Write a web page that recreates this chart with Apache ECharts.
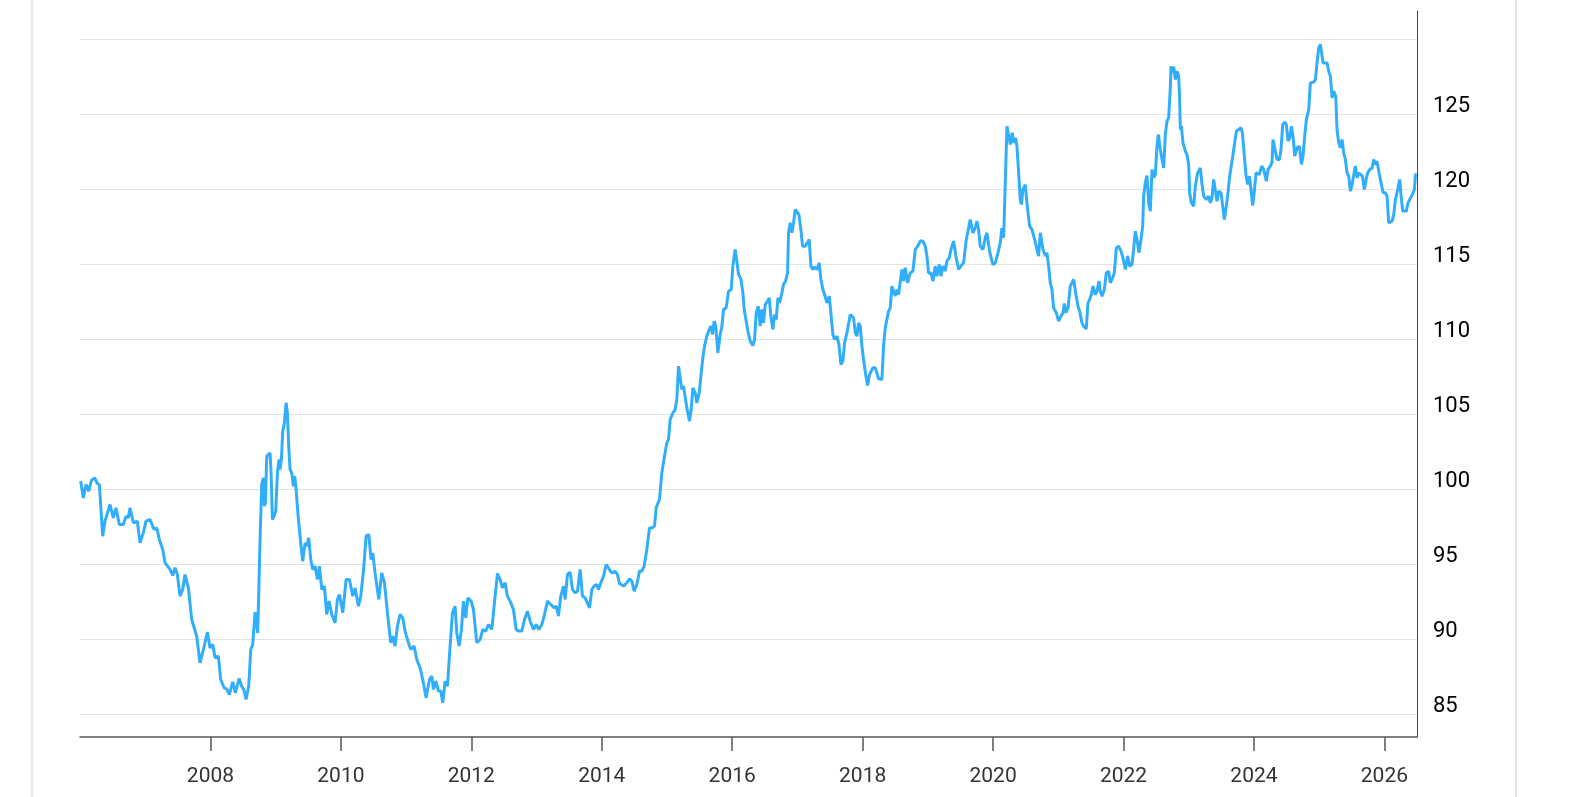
<!DOCTYPE html>
<html>
<head>
<meta charset="utf-8">
<title>Index</title>
<script src="https://cdn.jsdelivr.net/npm/echarts@6/dist/echarts.min.js"></script>
<style>
  html, body { margin: 0; padding: 0; background: #fff; }
  #frame { position: absolute; left: 31px; top: 0; width: 1482px; height: 797px;
           border-left: 2px solid #e6e6e6; border-right: 2px solid #e6e6e6; }
  #chart { position: absolute; left: 0; top: 0; width: 1572px; height: 797px; }
</style>
</head>
<body>
<div id="frame"></div>
<div id="chart"></div>
<script>
// decimal years of each reading
const years = [
  2006.010, 2006.051, 2006.092, 2006.133, 2006.174, 2006.225, 2006.266, 2006.297, 2006.348, 2006.383,
  2006.409, 2006.460, 2006.486, 2006.511, 2006.552, 2006.603, 2006.665, 2006.706, 2006.741, 2006.767,
  2006.818, 2006.879, 2006.920, 2006.971, 2007.012, 2007.074, 2007.135, 2007.176, 2007.217, 2007.268,
  2007.304, 2007.380, 2007.421, 2007.457, 2007.493, 2007.534, 2007.575, 2007.610, 2007.662, 2007.713,
  2007.789, 2007.840, 2007.892, 2007.953, 2007.994, 2008.035, 2008.071, 2008.122, 2008.157, 2008.209,
  2008.249, 2008.290, 2008.342, 2008.382, 2008.439, 2008.480, 2008.515, 2008.546, 2008.587, 2008.618,
  2008.648, 2008.684, 2008.725,
  2008.761, 2008.786, 2008.812, 2008.827, 2008.843, 2008.863, 2008.889, 2008.914, 2008.930, 2008.950,
  2008.975, 2009.001, 2009.027, 2009.052, 2009.067, 2009.088, 2009.108, 2009.134, 2009.160, 2009.180,
  2009.200, 2009.221, 2009.247, 2009.272, 2009.292, 2009.313, 2009.349, 2009.384, 2009.415, 2009.451,
  2009.476, 2009.507, 2009.538,
  2009.568, 2009.604, 2009.640, 2009.671, 2009.707, 2009.747, 2009.783, 2009.819, 2009.860, 2009.911,
  2009.947, 2009.978,
  2010.029, 2010.080, 2010.131, 2010.182, 2010.218, 2010.269, 2010.305, 2010.346, 2010.387, 2010.428,
  2010.463, 2010.489, 2010.524, 2010.581, 2010.627, 2010.668, 2010.714, 2010.765, 2010.796, 2010.831,
  2010.867, 2010.908, 2010.949, 2010.990, 2011.036, 2011.072, 2011.123, 2011.164, 2011.215, 2011.256,
  2011.307, 2011.332, 2011.358, 2011.394, 2011.419, 2011.455, 2011.496, 2011.532, 2011.562, 2011.598,
  2011.634, 2011.675, 2011.711, 2011.751, 2011.777, 2011.813, 2011.849, 2011.879, 2011.915, 2011.946,
  2011.997, 2012.033, 2012.084, 2012.135, 2012.176, 2012.222, 2012.263, 2012.314, 2012.365, 2012.401,
  2012.442, 2012.477, 2012.518, 2012.554, 2012.595, 2012.646, 2012.687, 2012.723, 2012.774, 2012.815,
  2012.861, 2012.902, 2012.953, 2012.994, 2013.035, 2013.081, 2013.117, 2013.168, 2013.219, 2013.270,
  2013.301, 2013.336, 2013.372, 2013.413, 2013.439, 2013.474, 2013.515, 2013.551, 2013.592, 2013.628,
  2013.669, 2013.704, 2013.745, 2013.771, 2013.812, 2013.848, 2013.883, 2013.924, 2013.950, 2013.986,
  2014.027, 2014.067, 2014.103, 2014.139, 2014.170, 2014.206, 2014.241, 2014.272,
  2014.333, 2014.384, 2014.425, 2014.461, 2014.497, 2014.538, 2014.579, 2014.615, 2014.650, 2014.691,
  2014.732, 2014.768, 2014.809, 2014.834, 2014.885, 2014.921, 2014.962, 2014.998, 2015.023, 2015.049,
  2015.090, 2015.126, 2015.151, 2015.177, 2015.202, 2015.228, 2015.254, 2015.279, 2015.305, 2015.346,
  2015.371, 2015.397, 2015.433, 2015.458, 2015.494, 2015.525, 2015.550, 2015.576, 2015.611, 2015.647,
  2015.673, 2015.698, 2015.724, 2015.749, 2015.780, 2015.816, 2015.842, 2015.867, 2015.908, 2015.944,
  2015.985, 2016.010, 2016.046, 2016.072, 2016.097, 2016.133, 2016.164, 2016.184, 2016.215, 2016.240,
  2016.276, 2016.317, 2016.343, 2016.368, 2016.399, 2016.429, 2016.455, 2016.481, 2016.506, 2016.542,
  2016.567, 2016.593, 2016.624, 2016.650, 2016.675, 2016.701, 2016.726, 2016.757, 2016.787, 2016.818,
  2016.849, 2016.864, 2016.890, 2016.915, 2016.941, 2016.966, 2016.992, 2017.022, 2017.053, 2017.079,
  2017.120, 2017.145, 2017.181, 2017.207, 2017.232, 2017.263, 2017.299, 2017.334, 2017.360, 2017.391,
  2017.416, 2017.452, 2017.488, 2017.513, 2017.544, 2017.570, 2017.605, 2017.636, 2017.667, 2017.697,
  2017.723, 2017.759, 2017.784, 2017.810, 2017.835, 2017.861, 2017.887, 2017.912, 2017.938, 2017.963,
  2017.989, 2018.014, 2018.050, 2018.076, 2018.106, 2018.132, 2018.157, 2018.193, 2018.219, 2018.244,
  2018.270, 2018.296, 2018.321, 2018.347, 2018.372, 2018.398, 2018.423, 2018.449, 2018.474, 2018.500,
  2018.526, 2018.551,
  2018.577, 2018.602, 2018.628, 2018.653, 2018.689, 2018.730, 2018.771, 2018.807, 2018.843, 2018.883,
  2018.924, 2018.960, 2018.986, 2019.011, 2019.047, 2019.078, 2019.113, 2019.139, 2019.175, 2019.200,
  2019.231, 2019.267, 2019.292, 2019.328, 2019.354, 2019.395, 2019.430, 2019.471, 2019.512, 2019.548,
  2019.589, 2019.625, 2019.650, 2019.691, 2019.727, 2019.753, 2019.778, 2019.804, 2019.845, 2019.880,
  2019.906, 2019.931, 2019.957, 2019.998, 2020.034, 2020.075, 2020.110, 2020.136, 2020.162, 2020.187,
  2020.213, 2020.233, 2020.264, 2020.294, 2020.315, 2020.346, 2020.366, 2020.392, 2020.417, 2020.433,
  2020.458, 2020.494, 2020.519, 2020.560, 2020.596, 2020.637, 2020.673, 2020.698, 2020.724, 2020.749,
  2020.765, 2020.801, 2020.826, 2020.852, 2020.877, 2020.903, 2020.928, 2020.969, 2021.005, 2021.041,
  2021.072, 2021.092, 2021.118, 2021.149, 2021.184, 2021.210, 2021.235, 2021.271, 2021.302, 2021.327,
  2021.363, 2021.389, 2021.429, 2021.455, 2021.481, 2021.506, 2021.532, 2021.567, 2021.593, 2021.624,
  2021.644, 2021.670, 2021.706, 2021.736, 2021.772, 2021.798, 2021.833, 2021.859, 2021.890, 2021.925,
  2021.961, 2021.992, 2022.028, 2022.063, 2022.094, 2022.130, 2022.155, 2022.181, 2022.207, 2022.237,
  2022.268, 2022.294, 2022.309, 2022.334, 2022.360, 2022.386, 2022.411, 2022.437, 2022.462, 2022.488,
  2022.513, 2022.534, 2022.564, 2022.590, 2022.616, 2022.641, 2022.667, 2022.692,
  2022.718, 2022.728, 2022.748, 2022.769, 2022.794, 2022.820, 2022.846, 2022.861, 2022.871, 2022.887,
  2022.912, 2022.948, 2022.973, 2022.999, 2023.014, 2023.040, 2023.076, 2023.101, 2023.137, 2023.178,
  2023.204, 2023.229, 2023.270, 2023.306, 2023.331, 2023.357, 2023.382, 2023.408, 2023.434, 2023.459,
  2023.495, 2023.521, 2023.546, 2023.577, 2023.602, 2023.628, 2023.653, 2023.679, 2023.705, 2023.730,
  2023.766, 2023.802, 2023.822, 2023.853, 2023.879, 2023.904, 2023.930, 2023.955, 2023.981, 2024.006,
  2024.032, 2024.057, 2024.083, 2024.119, 2024.149, 2024.190, 2024.216, 2024.252, 2024.277, 2024.292,
  2024.318, 2024.354, 2024.390, 2024.415, 2024.441, 2024.472, 2024.497, 2024.523, 2024.548, 2024.574,
  2024.599, 2024.625, 2024.661, 2024.696, 2024.727, 2024.753, 2024.778, 2024.804, 2024.840, 2024.865,
  2024.891, 2024.916, 2024.942, 2024.967, 2024.993, 2025.018, 2025.034, 2025.059, 2025.085, 2025.121,
  2025.151, 2025.172, 2025.198, 2025.223, 2025.254, 2025.274, 2025.300, 2025.325, 2025.351, 2025.376,
  2025.402, 2025.427, 2025.453, 2025.479, 2025.504, 2025.530, 2025.555, 2025.581, 2025.606, 2025.632,
  2025.663, 2025.693, 2025.719, 2025.744, 2025.775, 2025.811, 2025.836, 2025.862, 2025.888, 2025.918,
  2025.949, 2025.980, 2026.015, 2026.041, 2026.066, 2026.092, 2026.118, 2026.143, 2026.169, 2026.204,
  2026.235, 2026.256, 2026.281, 2026.307, 2026.337, 2026.363, 2026.389, 2026.419, 2026.440, 2026.460,
  2026.476, 2026.491
];

// index level at each reading
const values = [
  100.56, 99.44, 100.33, 99.89, 100.6, 100.78, 100.4, 100.33, 96.89, 97.89,
  98.0, 99.0, 99.11, 98.11, 98.78, 97.67, 97.67, 98.22, 98.11, 98.78,
  97.78, 97.89, 96.44, 97.11, 97.89, 98.0, 97.33, 97.44, 96.67, 96.0,
  95.11, 94.67, 94.27, 94.78, 94.33, 92.89, 93.33, 94.33, 93.44, 91.33,
  90.22, 88.44, 89.33, 90.49, 89.44, 89.67, 88.78, 88.89, 87.33, 86.78,
  86.71, 86.33, 87.18, 86.44, 87.4, 86.89, 86.62, 86.0, 86.89, 89.33,
  89.67, 91.82, 90.44,
  96.67, 100.33, 100.78, 98.89, 99.11, 102.22, 102.11, 102.44, 101.11, 98.0,
  98.22, 98.56, 101.11, 102.0, 101.33, 102.0, 103.89, 104.44, 105.78, 105.11,
  102.89, 101.33, 101.11, 100.22, 100.89, 100.0, 98.0, 96.44, 95.22, 96.44,
  96.22, 96.78, 95.33,
  94.67, 94.89, 94.0, 94.89, 93.33, 93.56, 91.67, 92.56, 91.67, 91.11,
  92.67, 93.0,
  91.78, 94.0, 94.0, 92.89, 93.44, 92.22, 92.89, 94.56, 96.89, 97.0,
  95.33, 95.78, 94.44, 92.67, 94.44, 93.78, 91.78, 89.78, 90.22, 89.56,
  90.89, 91.67, 91.44, 90.44, 89.78, 89.33, 89.56, 88.67, 88.11, 87.33,
  86.11, 86.0, 87.33, 87.56, 86.67, 87.22, 86.56, 86.56, 85.78, 87.22,
  86.89, 89.56, 91.78, 92.22, 90.44, 89.56, 90.67, 92.56, 91.44, 92.78,
  92.56, 92.0, 89.78, 90.0, 90.67, 90.56, 91.0, 90.67, 92.89, 94.4,
  94.0, 93.44, 93.78, 92.89, 92.56, 92.0, 90.67, 90.56, 90.56, 91.33,
  91.89, 91.22, 90.67, 91.0, 90.67, 91.0, 91.56, 92.56, 92.33, 92.11,
  92.22, 91.56, 92.89, 93.56, 92.67, 94.33, 94.49, 93.33, 93.11, 93.22,
  94.67, 92.89, 92.78, 92.67, 92.11, 93.33, 93.56, 93.67, 93.33, 93.78,
  94.22, 95.0, 94.78, 94.49, 94.44, 94.56, 94.33, 93.73,
  93.56, 93.78, 94.04, 93.89, 93.22, 93.67, 94.56, 94.56, 94.89, 96.0,
  97.44, 97.44, 97.56, 98.78, 99.33, 101.11, 102.22, 103.11, 103.33, 104.67,
  105.11, 105.33, 106.0, 108.22, 108.22, 106.67, 106.89, 106.78, 105.44, 104.56,
  105.33, 106.78, 106.44, 105.78, 106.44, 107.78, 108.78, 109.56, 110.22, 110.67,
  110.89, 110.33, 111.22, 110.89, 109.11, 110.33, 110.89, 112.0, 112.11, 113.22,
  113.33, 114.89, 116.0, 115.22, 114.33, 114.04, 113.11, 112.0, 111.22, 110.56,
  109.89, 109.6, 110.0, 111.78, 112.22, 110.89, 112.0, 111.11, 112.33, 112.56,
  112.78, 111.56, 110.67, 111.67, 111.33, 112.78, 112.44, 113.0, 113.67, 113.89,
  114.44, 117.11, 117.78, 117.11, 117.78, 118.67, 118.78, 118.33, 117.33, 116.22,
  116.22, 116.11, 116.67, 114.89, 114.67, 114.84, 114.67, 115.11, 114.0, 113.33,
  113.0, 112.44, 112.89, 111.78, 110.33, 110.0, 110.22, 109.67, 108.33, 108.56,
  109.78, 110.44, 110.56, 111.67, 111.78, 111.44, 110.44, 110.22, 111.11, 110.89,
  109.56, 108.67, 107.56, 106.93, 107.67, 107.56, 108.11, 108.11, 107.78, 107.38,
  107.44, 107.33, 109.56, 110.78, 111.33, 111.89, 112.11, 113.56, 113.44, 112.89,
  113.33, 113.0,
  112.89, 114.67, 113.89, 114.78, 113.78, 114.44, 114.56, 116.0, 116.22, 116.56,
  116.56, 116.22, 115.56, 114.44, 114.44, 113.89, 114.89, 114.22, 115.0, 114.22,
  114.89, 114.56, 115.22, 115.44, 116.0, 116.56, 115.56, 114.67, 114.93, 115.11,
  116.67, 117.44, 118.0, 117.11, 117.44, 117.89, 117.33, 116.22, 116.0, 116.78,
  117.11, 116.33, 115.67, 115.0, 115.11, 115.78, 116.44, 117.44, 116.78, 120.44,
  124.22, 124.33, 123.0, 123.78, 123.11, 123.44, 122.89, 121.11, 119.33, 119.0,
  120.0, 120.33, 119.11, 117.56, 117.33, 116.67, 116.0, 115.56, 117.11, 117.11,
  116.0, 115.56, 115.78, 114.89, 113.78, 113.33, 112.11, 111.78, 111.22, 111.56,
  111.78, 112.4, 111.78, 112.11, 113.56, 113.44, 114.0, 113.0, 112.22, 111.89,
  111.11, 110.89, 110.71, 112.44, 112.67, 113.0, 113.56, 113.0, 113.22, 113.89,
  113.22, 112.89, 113.33, 114.44, 114.56, 113.78, 114.11, 114.44, 116.11, 116.22,
  115.89, 115.44, 114.67, 115.56, 114.89, 115.0, 116.0, 117.22, 116.67, 115.78,
  116.67, 117.56, 119.56, 120.44, 120.93, 119.11, 118.56, 121.33, 120.78, 121.0,
  122.89, 123.67, 122.67, 122.0, 121.44, 123.67, 124.56, 124.78,
  126.78, 128.22, 127.78, 128.18, 127.33, 127.89, 127.56, 126.0, 124.0, 124.22,
  123.11, 122.56, 122.33, 121.67, 119.78, 119.11, 118.89, 120.22, 121.11, 121.44,
  120.33, 119.56, 119.33, 119.56, 119.11, 119.44, 120.67, 120.56, 119.22, 119.89,
  119.78, 118.89, 118.0, 118.89, 119.78, 120.89, 120.89, 122.33, 122.22, 123.89,
  124.0, 124.11, 123.78, 122.22, 120.89, 120.33, 120.89, 120.0, 118.93, 119.89,
  121.11, 121.22, 121.0, 121.56, 121.33, 120.56, 121.33, 121.56, 121.82, 123.33,
  123.22, 122.0, 122.0, 122.67, 124.33, 124.49, 124.33, 123.22, 123.44, 124.22,
  123.56, 122.22, 122.78, 122.89, 121.67, 122.22, 123.56, 124.67, 125.33, 127.11,
  127.16, 127.16, 127.33, 128.44, 129.44, 129.67, 129.22, 128.44, 128.56, 128.44,
  127.78, 127.56, 126.11, 126.56, 126.22, 124.0, 123.11, 122.78, 123.33, 122.44,
  122.0, 121.11, 120.89, 119.89, 120.33, 120.22, 121.56, 120.78, 121.11, 121.11,
  120.89, 120.0, 120.67, 121.11, 121.33, 121.44, 122.0, 121.67, 121.89, 121.11,
  120.44, 119.78, 119.78, 119.56, 117.78, 117.67, 117.89, 118.33, 119.33, 120.0,
  120.67, 119.56, 118.56, 118.44, 118.56, 119.11, 119.33, 119.33, 119.78, 120.0,
  121.0, 121.0
];

const yearTicks = [2008, 2010, 2012, 2014, 2016, 2018, 2020, 2022, 2024, 2026];
const valueLabels = [85, 90, 95, 100, 105, 110, 115, 120, 125];
const gridValues = [85, 90, 95, 100, 105, 110, 115, 120, 125, 130];

const chart = echarts.init(document.getElementById("chart"));
chart.setOption({
  animation: false,
  grid: { left: 80, right: 155, top: 11, bottom: 60 },
  xAxis: {
    type: "value",
    min: 2006,
    max: 2026.5,
    axisLine: { lineStyle: { color: "#555", width: 1.5 } },
    axisTick: { customValues: yearTicks, length: 14, lineStyle: { color: "#555", width: 1.5 } },
    axisLabel: {
      customValues: yearTicks,
      margin: 29,
      color: "#333",
      fontSize: 21,
      fontFamily: "Roboto",
      formatter: (v) => String(Math.round(v)),
    },
    splitLine: { show: false },
  },
  yAxis: {
    type: "value",
    position: "right",
    min: 83.5,
    max: 131.9,
    axisLine: { show: true, lineStyle: { color: "#444", width: 1 } },
    axisTick: { show: false, customValues: gridValues },
    axisLabel: {
      customValues: valueLabels,
      margin: 16,
      color: "#000",
      fontSize: 22,
      fontFamily: "Roboto",
      verticalAlign: "bottom",
      lineHeight: 16,
    },
    splitLine: { show: true, lineStyle: { color: "#e3e3e3", width: 1 } },
  },
  series: [
    {
      type: "line",
      data: years.map((y, i) => [y, values[i]]),
      showSymbol: false,
      lineStyle: { color: "#30aefc", width: 3 },
      itemStyle: { color: "#30aefc" },
    },
  ],
});
</script>
</body>
</html>
